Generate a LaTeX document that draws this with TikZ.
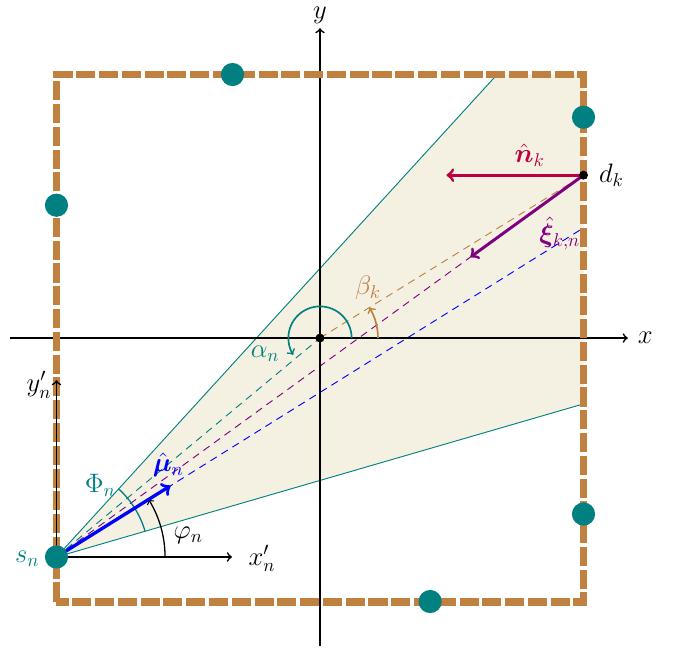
\documentclass[tikz,border=0pt]{standalone}
\usepackage{bm}
\usetikzlibrary{calc}
\definecolor{conefill}{RGB}{244,241,226}
\begin{document}
\begin{tikzpicture}[font=\fontsize{14}{16}\selectfont,
  tdot/.style={circle, fill=teal, minimum size=0.44cm, inner sep=0pt},
  bdot/.style={circle, fill=black, minimum size=0.17cm, inner sep=0pt},
  axisline/.style={->, line width=0.9pt},
  thindash/.style={line width=0.5pt, dash pattern=on 4pt off 3pt},
  bigarrow/.style={->, line width=1.6pt}]
\useasboundingbox (-6.072,-5.939) rectangle (6.736,6.414);
\coordinate (O) at (0,0);
\coordinate (sn) at (-5,-4.155);
\coordinate (dk) at (5,3.09);
\coordinate (cu) at (3.36,5);
\coordinate (cl) at (5,-1.25);
\coordinate (TR) at (5,5);
\coordinate (bl) at (5,2.09);
\coordinate (xl) at (-5.88,0);
\coordinate (xr) at (5.84,0);
\coordinate (yb) at (0,-5.84);
\coordinate (yt) at (0,5.88);
\coordinate (xp) at (-1.67,-4.155);
\coordinate (yp) at (-5,-0.80);
\coordinate (mu) at ($(sn)+(32:2.55)$);
\coordinate (nk) at (2.4,3.09);
\coordinate (xi) at ($(dk)!2.65cm!(sn)$);
% cone
\fill[conefill] (sn) -- (cu) -- (TR) -- (cl) -- cycle;
\draw[teal, line width=0.5pt] (cu) -- (sn) -- (cl);
% dashed lines
\draw[teal, thindash] (sn) -- (O);
\draw[violet, thindash] (sn) -- (dk);
\draw[blue, thindash] (sn) -- (bl);
\draw[brown, thindash] (O) -- (dk);
% axes
\draw[axisline] (xl) -- (xr);
\draw[axisline] (yb) -- (yt);
\node (xlab) at (6.17,0) {$x$};
\node[inner sep=1pt] (ylab) at (0,6.13) {$y$};
% border
\draw[brown, line width=4.3pt, dash pattern=on 10.3pt off 2pt] (-5,-5) rectangle (5,5);
% local axes
\draw[axisline] (sn) -- (xp);
\draw[axisline] (sn) -- (yp);
\node (xplab) at (-1.10,-4.18) {$x_n'$};
\node (yplab) at (-5.33,-0.89) {$y_n'$};
% angles
\draw[->, line width=0.7pt] ($(sn)+(0:2.06)$) arc[start angle=0, end angle=32, radius=2.06];
\draw[teal, line width=0.7pt] ($(sn)+(16.2:1.75)$) arc[start angle=16.2, end angle=47.7, radius=1.75];
\draw[teal, ->, line width=0.9pt] (0.6,0) arc[start angle=0, end angle=212, radius=0.6];
\draw[brown, ->, line width=0.9pt] (1.1,0) arc[start angle=0, end angle=31.7, radius=1.1];
\node[teal] (alab) at (-1.04,-0.30) {$\alpha_n$};
\node[brown] (blab) at (0.91,0.95) {$\beta_k$};
\node (philab) at (-2.50,-3.74) {$\varphi_n$};
\node[teal] (Philab) at (-4.17,-2.79) {$\Phi_n$};
% vectors
\draw[blue, ->, line width=1.8pt] (sn) -- (mu);
\node[blue] (mulab) at (-2.88,-2.41) {$\hat{\bm{\mu}}_n$};
\draw[purple, bigarrow] (dk) -- (nk);
\node[purple, inner sep=1pt] (nlab) at (3.98,3.47) {$\hat{\bm{n}}_k$};
\draw[violet, bigarrow] (dk) -- (xi);
\node[violet, inner sep=1pt] (xilab) at (4.55,1.98) {$\hat{\bm{\xi}}_{k,n}$};
% dots
\node[tdot] (d1) at (-1.66,5) {};
\node[tdot] (d2) at (-5,2.52) {};
\node[tdot] (d3) at (5,4.19) {};
\node[tdot] (d4) at (5,-3.34) {};
\node[tdot] (d5) at (2.09,-5) {};
\node[tdot] (s) at (sn) {};
\node[teal, anchor=east] (slab) at (-5.2,-4.18) {$s_n$};
\node[bdot] (d) at (dk) {};
\node[anchor=west] (dlab) at (5.17,3.09) {$d_k$};
\node[bdot] (o) at (O) {};
\end{tikzpicture}
\end{document}
